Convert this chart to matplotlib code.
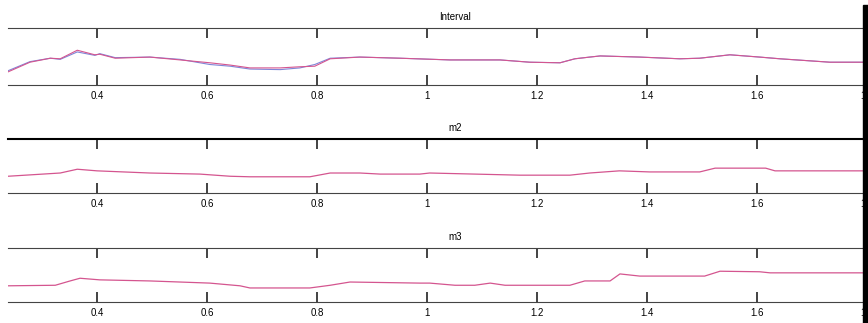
import matplotlib.pyplot as plt
from matplotlib.patches import Rectangle

plt.rcParams['font.family'] = ['Liberation Sans', 'DejaVu Sans']

# values (y in axes units 0..1)
x_int = [0.238, 0.278, 0.315, 0.333, 0.364, 0.396, 0.405, 0.433, 0.496, 0.551,
         0.605, 0.642, 0.678, 0.733, 0.769, 0.796, 0.824, 0.878, 0.951, 1.042,
         1.133, 1.187, 1.242, 1.269, 1.296, 1.315, 1.387, 1.46, 1.496, 1.551,
         1.605, 1.642, 1.733, 1.80]
y_int_pink = [0.23, 0.40, 0.47, 0.46, 0.61, 0.53, 0.54, 0.47, 0.49, 0.44,
              0.39, 0.35, 0.30, 0.30, 0.32, 0.33, 0.46, 0.49, 0.47, 0.44,
              0.44, 0.40, 0.39, 0.46, 0.49, 0.51, 0.49, 0.46, 0.47, 0.53,
              0.49, 0.46, 0.40, 0.40]
y_int_blue = [0.25, 0.41, 0.47, 0.45, 0.58, 0.52, 0.55, 0.48, 0.49, 0.45,
              0.36, 0.33, 0.28, 0.27, 0.30, 0.36, 0.47, 0.49, 0.47, 0.44,
              0.44, 0.40, 0.39, 0.46, 0.49, 0.51, 0.49, 0.46, 0.47, 0.53,
              0.49, 0.46, 0.40, 0.40]

x_m2 = [0.238, 0.333, 0.364, 0.40, 0.496, 0.587, 0.642, 0.678, 0.787, 0.824,
        0.878, 0.915, 0.987, 1.005, 1.169, 1.26, 1.296, 1.35, 1.405, 1.496,
        1.524, 1.616, 1.633, 1.80]
y_m2 = [0.31, 0.37, 0.44, 0.41, 0.37, 0.35, 0.31, 0.30, 0.30, 0.37,
        0.37, 0.35, 0.35, 0.37, 0.33, 0.33, 0.37, 0.41, 0.39, 0.39,
        0.46, 0.46, 0.41, 0.41]

x_m3 = [0.238, 0.324, 0.351, 0.369, 0.405, 0.496, 0.605, 0.66, 0.678, 0.787,
        0.824, 0.860, 0.987, 1.005, 1.051, 1.087, 1.115, 1.142, 1.26, 1.287,
        1.333, 1.351, 1.387, 1.505, 1.533, 1.605, 1.624, 1.80]
y_m3 = [0.30, 0.31, 0.39, 0.44, 0.41, 0.39, 0.35, 0.30, 0.26, 0.26,
        0.31, 0.37, 0.35, 0.35, 0.31, 0.31, 0.35, 0.31, 0.31, 0.39,
        0.39, 0.52, 0.48, 0.48, 0.57, 0.56, 0.54, 0.54]

titles = ['Interval', 'm2', 'm3']
ticks = [0.4, 0.6, 0.8, 1, 1.2, 1.4, 1.6, 1.8]
tick_labels = ['0.4', '0.6', '0.8', '1', '1.2', '1.4', '1.6', '1.8']

pink = '#d4558f'
blue = '#7f86d8'

fig = plt.figure(figsize=(8.68, 3.23), dpi=100)

# axes boxes: left, bottom, width, height (figure fraction)
boxes = [[0.0092, 0.7368, 1.030, 0.1765],
         [0.0092, 0.4025, 1.030, 0.1672],
         [0.0092, 0.0650, 1.030, 0.1672]]

axes = [fig.add_axes(b) for b in boxes]

axes[0].plot(x_int, y_int_blue, color=blue, lw=0.8)
axes[0].plot(x_int, y_int_pink, color=pink, lw=0.8)
axes[1].plot(x_m2, y_m2, color=pink, lw=0.9)
axes[2].plot(x_m3, y_m3, color=pink, lw=0.9)

for ax, t in zip(axes, titles):
    ax.set_xlim(0.238, 1.864)
    ax.set_ylim(0, 1)
    ax.set_title(t, fontsize=7, pad=6)
    ax.set_xticks(ticks)
    ax.set_xticklabels(tick_labels)
    ax.set_yticks([])
    ax.tick_params(axis='x', direction='in', top=True, bottom=True,
                   length=7, width=1.2, labelsize=7, pad=4, color='#222222')
    ax.spines['left'].set_visible(False)
    ax.spines['right'].set_visible(False)
    ax.spines['top'].set_color('#444444')
    ax.spines['bottom'].set_color('#444444')
    ax.spines['top'].set_linewidth(0.8)
    ax.spines['bottom'].set_linewidth(0.8)

axes[1].spines['top'].set_color('black')
axes[1].spines['top'].set_linewidth(1.5)

# black band on the right edge
fig.patches.append(Rectangle((863 / 868, 0), 5 / 868, 1 - 5 / 323,
                             transform=fig.transFigure, color='black',
                             zorder=10))

fig.savefig('out.png', dpi=100)
